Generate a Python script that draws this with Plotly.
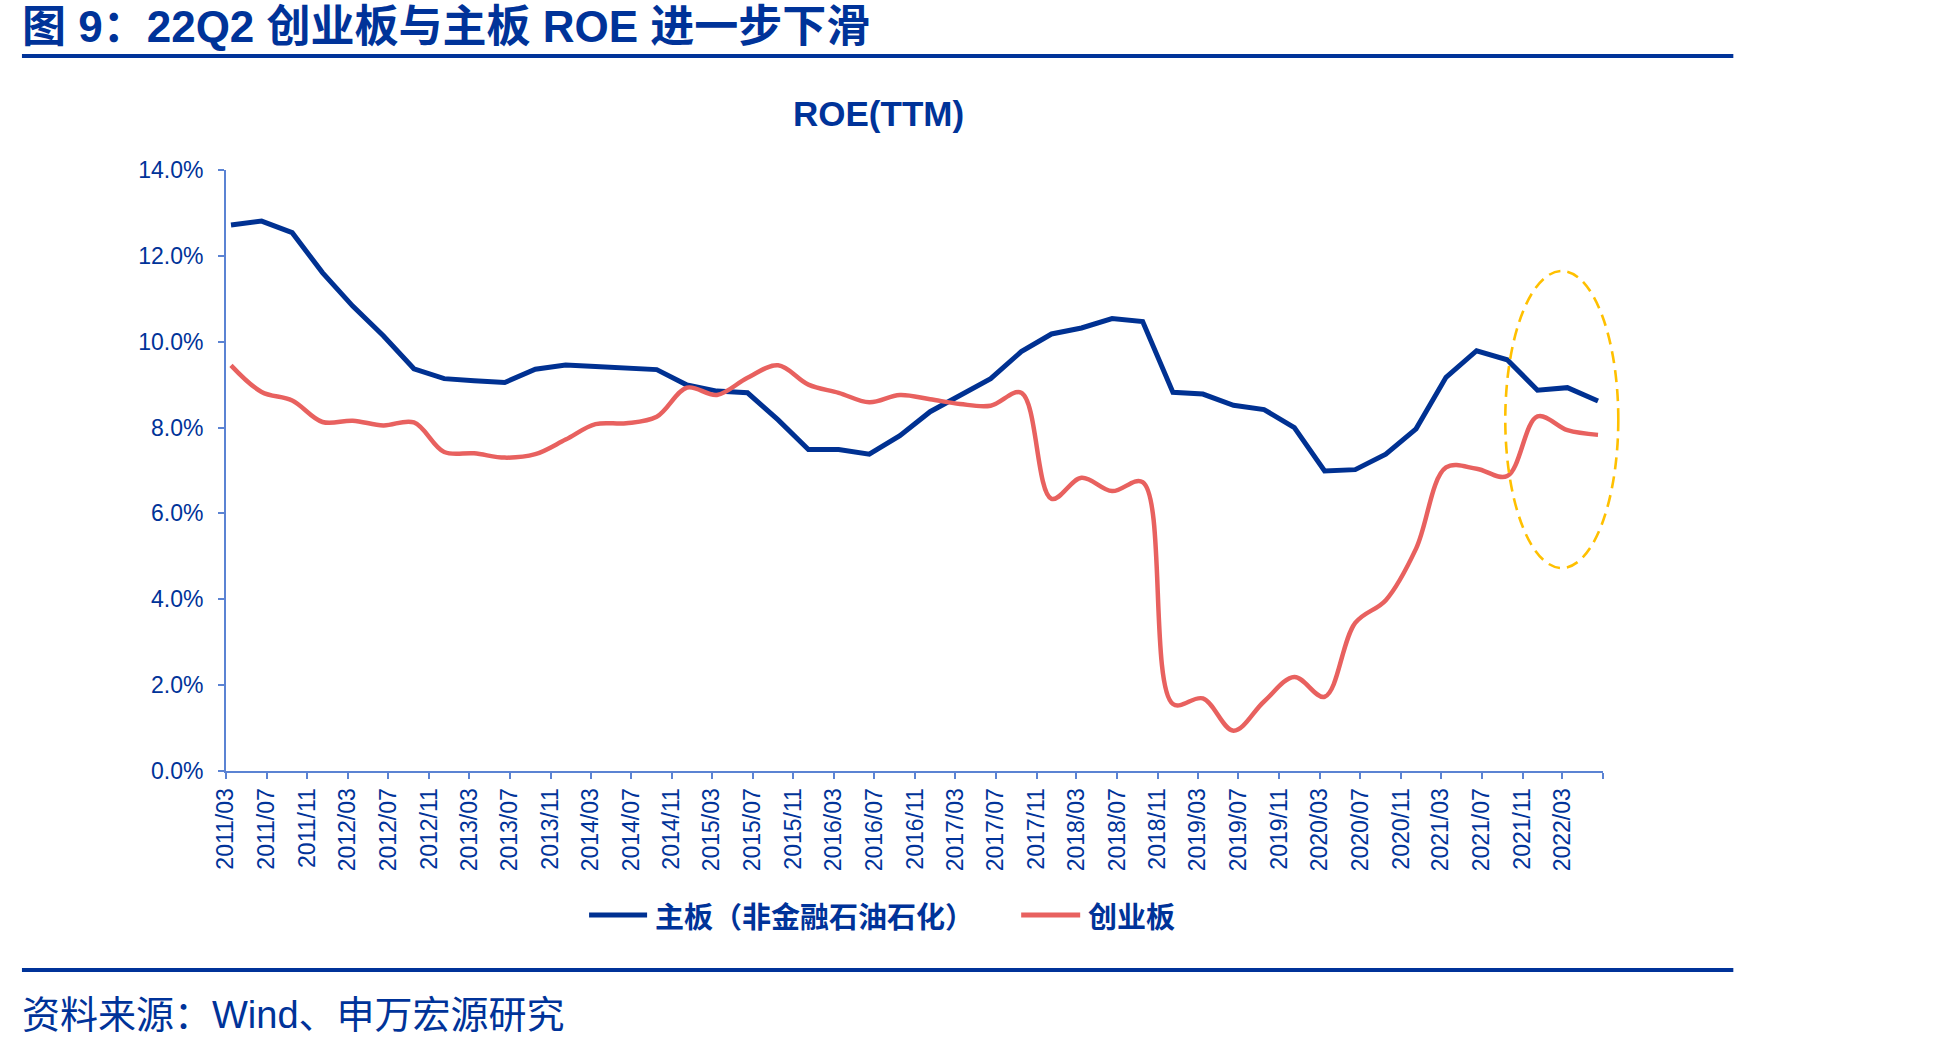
import pandas as pd
import plotly.graph_objects as go

# ---------------- data ----------------
quarters = [
    "2011/03", "2011/06", "2011/09", "2011/12",
    "2012/03", "2012/06", "2012/09", "2012/12",
    "2013/03", "2013/06", "2013/09", "2013/12",
    "2014/03", "2014/06", "2014/09", "2014/12",
    "2015/03", "2015/06", "2015/09", "2015/12",
    "2016/03", "2016/06", "2016/09", "2016/12",
    "2017/03", "2017/06", "2017/09", "2017/12",
    "2018/03", "2018/06", "2018/09", "2018/12",
    "2019/03", "2019/06", "2019/09", "2019/12",
    "2020/03", "2020/06", "2020/09", "2020/12",
    "2021/03", "2021/06", "2021/09", "2021/12",
    "2022/03", "2022/06",
]

main_board = [
    12.72, 12.81, 12.54, 11.61,
    10.83, 10.14, 9.37, 9.14,
    9.09, 9.05, 9.36, 9.46,
    9.42, 9.38, 9.35, 8.99,
    8.85, 8.81, 8.18, 7.49,
    7.49, 7.38, 7.81, 8.37,
    8.76, 9.14, 9.77, 10.18,
    10.32, 10.54, 10.47, 8.82,
    8.78, 8.52, 8.42, 8.00,
    6.99, 7.02, 7.38, 7.97,
    9.17, 9.79, 9.58, 8.87,
    8.93, 8.62,
]

chinext = [
    9.45, 8.83, 8.63, 8.13,
    8.16, 8.05, 8.12, 7.43,
    7.40, 7.30, 7.38, 7.72,
    8.08, 8.10, 8.25, 8.93,
    8.76, 9.16, 9.45, 9.00,
    8.81, 8.59, 8.76, 8.66,
    8.55, 8.51, 8.81, 6.34,
    6.83, 6.52, 6.73, 1.56,
    1.69, 0.94, 1.62, 2.19,
    1.73, 3.45, 3.98, 5.18,
    7.07, 7.04, 6.87, 8.26,
    7.94, 7.83,
]

tick_labels = [
    "2011/03", "2011/07", "2011/11", "2012/03", "2012/07", "2012/11",
    "2013/03", "2013/07", "2013/11", "2014/03", "2014/07", "2014/11",
    "2015/03", "2015/07", "2015/11", "2016/03", "2016/07", "2016/11",
    "2017/03", "2017/07", "2017/11", "2018/03", "2018/07", "2018/11",
    "2019/03", "2019/07", "2019/11", "2020/03", "2020/07", "2020/11",
    "2021/03", "2021/07", "2021/11", "2022/03", "2022/07",
]
y_ticks = [0, 2, 4, 6, 8, 10, 12, 14]

series_names = ["主板（非金融石油石化）", "创业板"]

# ---------------- styling ----------------
BLUE_LINE = "#003192"
RED_LINE = "#E8615F"
TEXT_BLUE = "#003399"
AXIS_BLUE = "#5B83D3"
GOLD = "#FFC000"
CJK = "Noto Sans CJK SC"
LATIN = "Liberation Sans, Arial"
MIXED = "Liberation Sans, Noto Sans CJK SC"

W, H = 1948, 1047
L, R, T, B = 226, 1602.7, 170, 771   # plot-area pixel box


def px(x):
    return (x - L) / (R - L)


def py(y):
    return (B - y) / (B - T)


x_dates = pd.to_datetime([q + "/16" for q in quarters], format="%Y/%m/%d")
tick_vals = pd.to_datetime([t + "/01" for t in tick_labels], format="%Y/%m/%d")
tick_text = tick_labels[:-1] + [""]

series_colors = [BLUE_LINE, RED_LINE]
series_widths = [5, 4.5]
series_shapes = ["linear", "spline"]

fig = go.Figure()
for name, vals, col, wid, shp in zip(series_names, [main_board, chinext],
                                     series_colors, series_widths, series_shapes):
    fig.add_trace(go.Scatter(
        x=x_dates, y=vals, mode="lines", name=name, showlegend=False,
        line=dict(color=col, width=wid, shape=shp),
    ))

fig.update_layout(
    width=W, height=H,
    margin=dict(l=L, r=W - R, t=T, b=H - B, pad=0),
    paper_bgcolor="white", plot_bgcolor="white",
    showlegend=False,
    xaxis=dict(
        type="date",
        range=[tick_vals[0], tick_vals[-1]],
        tickmode="array", tickvals=tick_vals, ticktext=tick_text,
        tickangle=-90,
        ticks="outside", ticklen=6, tickwidth=1.5, tickcolor=AXIS_BLUE,
        showline=True, linecolor=AXIS_BLUE, linewidth=2,
        showgrid=False, zeroline=False,
        tickfont=dict(family=LATIN, size=23, color=TEXT_BLUE),
        fixedrange=True,
    ),
    yaxis=dict(
        range=[0, 14],
        tickmode="array", tickvals=y_ticks,
        ticktext=[f"{v:.1f}%" for v in y_ticks],
        ticks="outside", ticklen=6, tickwidth=1.5, tickcolor=AXIS_BLUE,
        showline=True, linecolor=AXIS_BLUE, linewidth=2,
        showgrid=False, zeroline=False,
        tickfont=dict(family=LATIN, size=23, color=TEXT_BLUE),
        ticklabelstandoff=10,
        fixedrange=True,
    ),
)

# custom legend (line sample + label)
LEG_Y = 915
legend_items = [(589, 647, 653), (1021, 1080, 1086)]
for (lx0, lx1, tx), name, col in zip(legend_items, series_names, series_colors):
    fig.add_shape(
        type="line", xref="paper", yref="paper",
        x0=px(lx0), x1=px(lx1), y0=py(LEG_Y), y1=py(LEG_Y),
        line=dict(color=col, width=5),
    )
    fig.add_annotation(
        text=f"<b>{name}</b>",
        xref="paper", yref="paper", x=px(tx), y=py(LEG_Y),
        xanchor="left", yanchor="middle", showarrow=False,
        font=dict(family=CJK, size=29, color=TEXT_BLUE),
    )

# title, chart title, footer
fig.add_annotation(
    text="<b>图 9：22Q2 创业板与主板 ROE 进一步下滑</b>",
    xref="paper", yref="paper", x=px(20), y=py(0),
    xanchor="left", yanchor="top", showarrow=False,
    font=dict(family=MIXED, size=44, color=TEXT_BLUE),
)
fig.add_annotation(
    text="<b>ROE(TTM)</b>",
    xref="paper", yref="paper", x=px(878), y=py(113),
    xanchor="center", yanchor="middle", showarrow=False,
    font=dict(family=LATIN, size=35, color=TEXT_BLUE),
)
fig.add_annotation(
    text="资料来源：Wind、申万宏源研究",
    xref="paper", yref="paper", x=px(20), y=py(1015),
    xanchor="left", yanchor="middle", showarrow=False,
    font=dict(family=MIXED, size=38, color=TEXT_BLUE),
)

# horizontal rules
for yy in (56, 970):
    fig.add_shape(
        type="line", xref="paper", yref="paper",
        x0=px(22), x1=px(1733), y0=py(yy), y1=py(yy),
        line=dict(color=TEXT_BLUE, width=4),
    )

# dashed highlight ellipse
fig.add_shape(
    type="circle", xref="paper", yref="paper",
    x0=px(1505), x1=px(1618), y0=py(568), y1=py(271),
    line=dict(color=GOLD, width=2.6, dash="12px,7px"),
    fillcolor="rgba(0,0,0,0)", layer="above",
)

fig.write_html("out.html")
